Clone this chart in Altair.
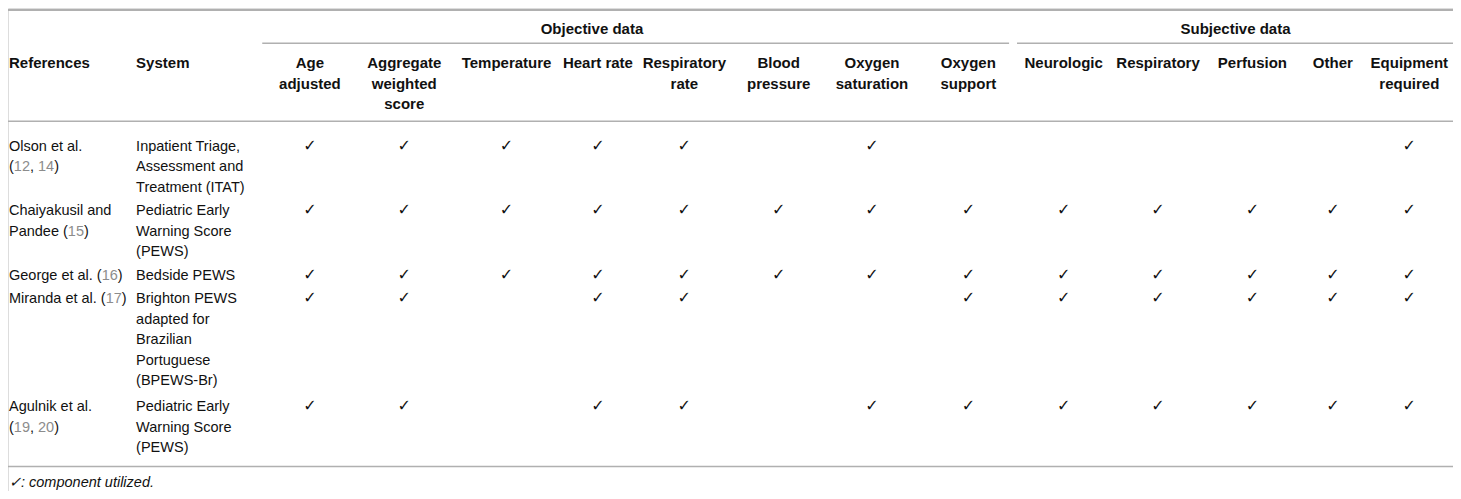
import re
import altair as alt
import pandas as pd

group_names = ["Objective data", "Subjective data"]
objective_cols = ["Age\nadjusted", "Aggregate\nweighted\nscore", "Temperature", "Heart rate",
                  "Respiratory\nrate", "Blood\npressure", "Oxygen\nsaturation", "Oxygen\nsupport"]
subjective_cols = ["Neurologic", "Respiratory", "Perfusion", "Other", "Equipment\nrequired"]
label_cols = ["References", "System"]
ref_authors = ["Olson et al.", "Chaiyakusil and Pandee", "George et al.", "Miranda et al.", "Agulnik et al."]
ref_cites = [[12, 14], [15], [16], [17], [19, 20]]
systems = ["Inpatient Triage, Assessment and Treatment (ITAT)",
           "Pediatric Early Warning Score (PEWS)",
           "Bedside PEWS",
           "Brighton PEWS adapted for Brazilian Portuguese (BPEWS-Br)",
           "Pediatric Early Warning Score (PEWS)"]
used = [
    [1, 1, 1, 1, 1, 0, 1, 0, 0, 0, 0, 0, 1],
    [1, 1, 1, 1, 1, 1, 1, 1, 1, 1, 1, 1, 1],
    [1, 1, 1, 1, 1, 1, 1, 1, 1, 1, 1, 1, 1],
    [1, 1, 0, 1, 1, 0, 0, 1, 1, 1, 1, 1, 1],
    [1, 1, 0, 1, 1, 0, 1, 1, 1, 1, 1, 1, 1],
]
check_mark = "\u2713"
footnote = "\u2713: component utilized."

# ---------------- layout (reference pixel space) ----------------
W_PX, H_PX = 1445, 483
X_DOM, Y_DOM = [2, 1457], [2, 497]
SX = W_PX / (X_DOM[1] - X_DOM[0])
FS = 14.5
HFS = 15
LINE_H = 21
WRAP = 122
LEFT = [3, 131]
COL_CENTER = [306, 401, 504, 596, 683, 778, 872, 969, 1065, 1160, 1255, 1336, 1413]
GROUP_CENTER = [590, 1238]
GROUP_SPAN = [(258, 1010), (1018, 1457)]
GROUP_Y, HEAD_Y = 29, 63.5
ROW_Y = [148.5, 214.5, 280.5, 304.5, 415.5]
FOOT_Y = 493
TEXT_C, CITE_C, RULE_C = "#111111", "#8c8c8c", "#b0b0b0"

# Arial / Liberation Sans advance widths (per 1000 em)
AW = dict(zip("abcdefghijklmnopqrstuvwxyz",
              [556, 556, 500, 556, 556, 278, 556, 556, 222, 222, 500, 222, 833, 556, 556, 556, 556,
               333, 500, 278, 556, 500, 722, 500, 500, 500]))
AW.update(dict(zip("ABCDEFGHIJKLMNOPQRSTUVWXYZ",
                   [667, 667, 722, 722, 667, 611, 778, 722, 278, 500, 667, 556, 833, 722, 778, 667,
                    778, 722, 667, 611, 722, 667, 944, 667, 667, 611])))
AW.update({" ": 278, "(": 333, ")": 333, ",": 278, ".": 278, "-": 333, ":": 278})
AW.update({d: 556 for d in "0123456789"})


def tw(s):
    return sum(AW.get(ch, 556) for ch in s) * FS / 1000.0


def wrap(words, limit):
    lines, cur = [], []
    for w in words:
        if cur and tw(" ".join(cur + [w])) > limit:
            lines.append(" ".join(cur))
            cur = [w]
        else:
            cur.append(w)
    if cur:
        lines.append(" ".join(cur))
    return lines


segs = []
for i, (auth, cites) in enumerate(zip(ref_authors, ref_cites)):
    words = auth.split() + ["(" + ", ".join(str(c) for c in cites) + ")"]
    for k, line in enumerate(wrap(words, WRAP)):
        off = 0.0
        for part in re.split(r"(\d+)", line):
            if not part:
                continue
            segs.append({"x": LEFT[0] + off / SX, "y": ROW_Y[i] + k * LINE_H, "t": part,
                         "c": CITE_C if part.isdigit() else TEXT_C})
            off += tw(part)
for i, s in enumerate(systems):
    for k, line in enumerate(wrap(s.split(), WRAP)):
        segs.append({"x": LEFT[1], "y": ROW_Y[i] + k * LINE_H, "t": line, "c": TEXT_C})
body = pd.DataFrame(segs)

head_left = pd.DataFrame({"x": LEFT, "y": [HEAD_Y] * 2, "t": label_cols})
hc = []
for j, name in enumerate(objective_cols + subjective_cols):
    for k, line in enumerate(name.split("\n")):
        hc.append({"x": COL_CENTER[j], "y": HEAD_Y + k * LINE_H, "t": line})
hc += [{"x": GROUP_CENTER[g], "y": GROUP_Y, "t": group_names[g]} for g in range(2)]
head_center = pd.DataFrame(hc)

checks = pd.DataFrame([{"x": COL_CENTER[j], "y": ROW_Y[i], "t": check_mark}
                       for i in range(len(used)) for j in range(len(used[i])) if used[i][j]])
foot = pd.DataFrame({"x": [LEFT[0]], "y": [FOOT_Y], "t": [footnote]})

rules = pd.DataFrame([
    {"x": 0, "x2": 1457, "y": 4, "w": 2},
    {"x": GROUP_SPAN[0][0], "x2": GROUP_SPAN[0][1], "y": 38, "w": 1.5},
    {"x": GROUP_SPAN[1][0], "x2": GROUP_SPAN[1][1], "y": 38, "w": 1.5},
    {"x": 0, "x2": 1457, "y": 118, "w": 1.5},
    {"x": 0, "x2": 1457, "y": 472, "w": 1.5},
])

xs = alt.Scale(domain=X_DOM, nice=False, zero=False)
ys = alt.Scale(domain=Y_DOM, nice=False, zero=False, reverse=True)
X = alt.X("x:Q", scale=xs, axis=None)
Y = alt.Y("y:Q", scale=ys, axis=None)
FONT = "Liberation Sans"

rule_layer = alt.Chart(rules).mark_rule(color=RULE_C).encode(
    x=X, x2="x2:Q", y=Y, strokeWidth=alt.StrokeWidth("w:Q", scale=None))
body_layer = alt.Chart(body).mark_text(align="left", baseline="alphabetic", font=FONT, fontSize=FS).encode(
    x=X, y=Y, text="t:N", color=alt.Color("c:N", scale=None))
hl_layer = alt.Chart(head_left).mark_text(align="left", baseline="alphabetic", font=FONT, fontSize=HFS,
                                          fontWeight="bold", color="#111").encode(x=X, y=Y, text="t:N")
hc_layer = alt.Chart(head_center).mark_text(align="center", baseline="alphabetic", font=FONT, fontSize=HFS,
                                            fontWeight="bold", color="#111").encode(x=X, y=Y, text="t:N")
chk_layer = alt.Chart(checks).mark_text(align="center", baseline="alphabetic", font="DejaVu Sans",
                                        fontSize=16, color="#111").encode(x=X, y=Y, text="t:N")
foot_layer = alt.Chart(foot).mark_text(align="left", baseline="alphabetic", font=FONT, fontSize=FS,
                                       fontStyle="italic", color=TEXT_C).encode(x=X, y=Y, text="t:N")

chart = alt.layer(rule_layer, body_layer, hl_layer, hc_layer, chk_layer, foot_layer).properties(
    width=W_PX, height=H_PX, padding=0,
    autosize=alt.AutoSizeParams(type="none"),
).configure_view(stroke=None).configure(background="white")

chart.save("out.html", embed_options={"renderer": "svg", "actions": False})
